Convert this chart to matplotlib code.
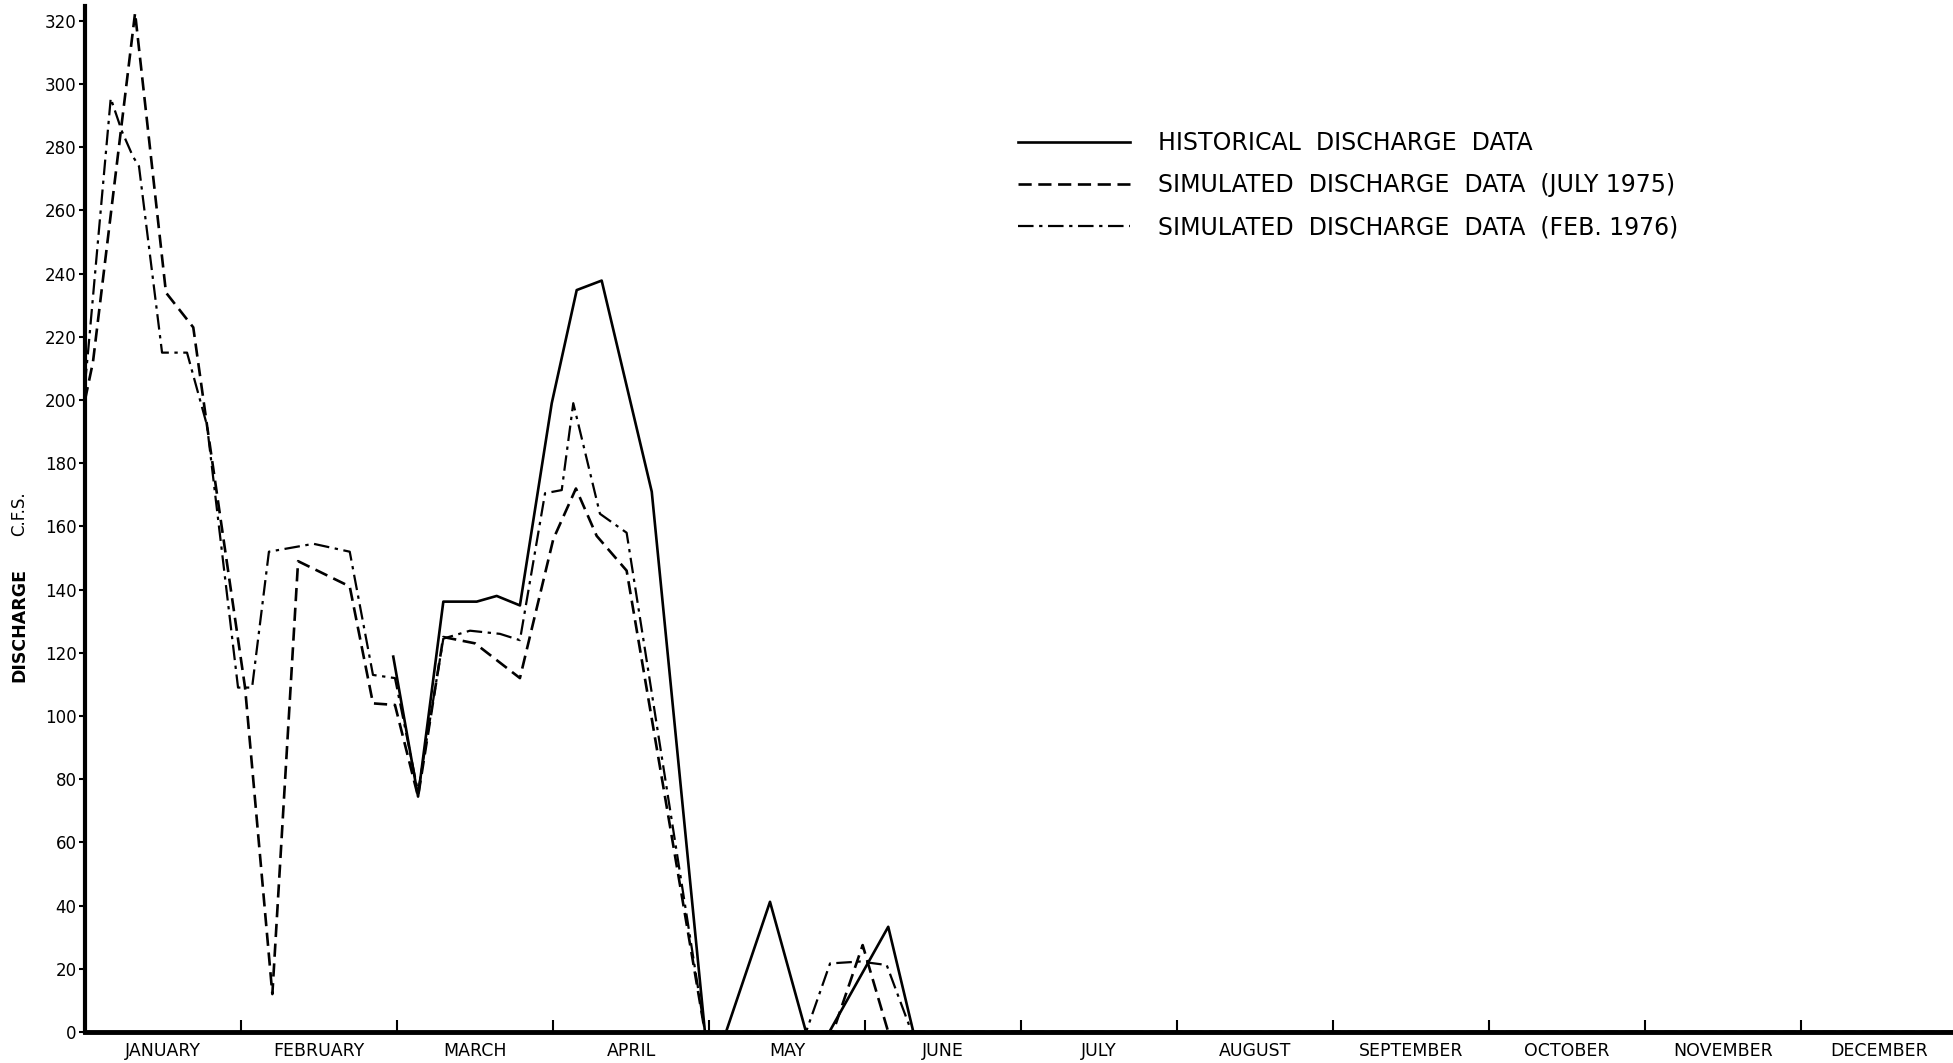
import matplotlib
matplotlib.use('Agg')
import matplotlib.pyplot as plt

# Data (x in months from 1 January, y in c.f.s.)
hist_x = [1.976, 2.135, 2.297, 2.511, 2.639, 2.788, 2.992, 3.152, 3.312, 3.633,
          3.974, 4.109, 4.391, 4.622, 4.771, 5.149, 5.310, 12.0]
hist_y = [118.8, 74.5, 136.2, 136.2, 138.0, 135.0, 199.0, 234.8, 237.8, 171.0,
          0, 0, 41.2, 0, 0, 33.3, 0, 0]

jul75_x = [0.0, 0.051, 0.321, 0.519, 0.694, 0.782, 1.026, 1.201, 1.366, 1.697,
           1.846, 1.987, 2.135, 2.297, 2.5, 2.788, 3.002, 3.147, 3.280, 3.472,
           3.974, 4.795, 4.985, 5.149, 12.0]
jul75_y = [200, 212, 322.5, 234, 223, 192, 109, 12, 149, 141,
           104, 103.5, 74.5, 125, 123, 112, 156, 172, 157, 146,
           0, 0, 27.5, 0, 0]

feb76_x = [0.0, 0.021, 0.165, 0.237, 0.308, 0.346, 0.494, 0.654, 0.782, 0.981,
           1.071, 1.179, 1.465, 1.697, 1.846, 1.987, 2.135, 2.297, 2.468, 2.660,
           2.788, 2.949, 3.056, 3.130, 3.301, 3.472, 3.974, 4.622, 4.776, 4.968,
           5.139, 5.299, 12.0]
feb76_y = [205, 216, 295.5, 285, 277, 274, 215, 215, 192, 109,
           109, 152, 154.5, 152, 113, 112, 76, 124.5, 127, 126,
           124, 170.5, 171.5, 199, 164, 158, 0, 0, 21.7, 22.3,
           21.2, 0, 0]

months = ['JANUARY', 'FEBRUARY', 'MARCH', 'APRIL', 'MAY', 'JUNE', 'JULY',
          'AUGUST', 'SEPTEMBER', 'OCTOBER', 'NOVEMBER', 'DECEMBER']
yticks = list(range(0, 321, 20))

plt.rcParams['font.family'] = ['DejaVu Sans']

W, H = 1953, 1063
fig = plt.figure(figsize=(W / 100, H / 100), dpi=100)
ax = fig.add_axes([85 / W, 31 / H, (W - 85) / W, 1026 / H])

ax.plot(hist_x, hist_y, color='black', lw=1.9, ls='-',
        label='HISTORICAL  DISCHARGE  DATA')
ax.plot(jul75_x, jul75_y, color='black', lw=1.9, ls=(0, (5, 2.5)),
        label='SIMULATED  DISCHARGE  DATA  (JULY 1975)')
ax.plot(feb76_x, feb76_y, color='black', lw=1.6, ls=(0, (7, 2.5, 1.5, 2.5)),
        label='SIMULATED  DISCHARGE  DATA  (FEB. 1976)')

ax.set_xlim(0, (W - 85) / 156)
ax.set_ylim(0, 324.7)

for s in ['top', 'right']:
    ax.spines[s].set_visible(False)
ax.spines['left'].set_linewidth(3)
ax.spines['bottom'].set_linewidth(3.5)

ax.set_yticks(yticks)
ax.set_yticklabels([str(v) for v in yticks], fontsize=12)
ax.tick_params(axis='y', direction='out', length=4, width=1.5, pad=2)

ax.set_xticks(range(1, 12))
ax.set_xticklabels([])
ax.set_xticks([i + 0.5 for i in range(12)], minor=True)
ax.set_xticklabels(months, minor=True, fontsize=12.5)
ax.tick_params(axis='x', which='major', direction='in', length=9, width=1.5)
ax.tick_params(axis='x', which='minor', length=0, pad=7)

fig.text(19 / W, 1 - 625 / H, 'DISCHARGE', rotation=90, ha='center', va='center',
         fontsize=12.5, fontweight='bold')
fig.text(19 / W, 1 - 514 / H, 'C.F.S.', rotation=90, ha='center', va='center',
         fontsize=12)

ax.legend(loc='upper left', bbox_to_anchor=(1006 / W, 1 - 119 / H),
          bbox_transform=fig.transFigure, frameon=False, fontsize=17,
          handlelength=4.75, handletextpad=1.2, labelspacing=0.78, borderpad=0)

fig.savefig('out.png', dpi=100)
